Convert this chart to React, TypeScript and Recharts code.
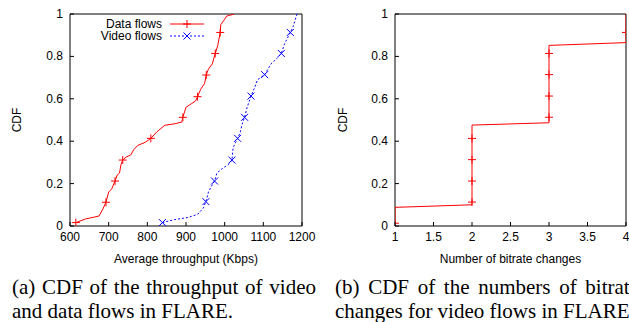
import React from 'react';
import { LineChart, Line, XAxis, YAxis, ReferenceArea, Legend } from 'recharts';

// tick labels
const throughputTicks = [600, 700, 800, 900, 1000, 1100, 1200];
const bitrateTicks = [1, 1.5, 2, 2.5, 3, 3.5, 4];
const cdfTicks = [0, 0.2, 0.4, 0.6, 0.8, 1];

// (a) data flows
const dataFlowKbps = [
  615, 640, 675, 685, 693, 700, 708, 716.5, 722, 728, 732, 736.4, 745, 757, 765, 775, 795, 809, 825, 845,
  870, 889, 891.8, 900, 915, 925, 929.8, 938, 948, 952.3, 958, 968, 975.6, 982, 988.5, 990, 1000, 1005, 1025,
];
const dataFlowCdf = [
  0.016, 0.033, 0.047, 0.08, 0.112, 0.16, 0.175, 0.212, 0.24, 0.25, 0.29, 0.311, 0.325, 0.335, 0.36, 0.38,
  0.395, 0.4135, 0.445, 0.475, 0.482, 0.49, 0.5126, 0.56, 0.578, 0.59, 0.61, 0.645, 0.672, 0.712, 0.74,
  0.765, 0.814, 0.85, 0.913, 0.95, 0.975, 0.99, 1.0,
];
const dataFlowMarks = [0, 4, 7, 11, 17, 22, 26, 29, 32, 34];

// (a) video flows
const videoFlowKbps = [
  839, 870, 905, 930, 945, 951.4, 958, 965, 973.8, 980, 993, 1010, 1018.7, 1022, 1033.4, 1040, 1045, 1051.5,
  1058, 1063, 1068, 1078, 1085, 1103.3, 1120, 1135, 1146.5, 1155, 1169.8, 1177, 1187,
];
const videoFlowCdf = [
  0.016, 0.03, 0.04, 0.055, 0.085, 0.115, 0.16, 0.185, 0.212, 0.25, 0.27, 0.29, 0.311, 0.37, 0.4135, 0.44,
  0.48, 0.5126, 0.56, 0.585, 0.613, 0.655, 0.69, 0.714, 0.765, 0.79, 0.814, 0.86, 0.913, 0.94, 1.0,
];
const videoFlowMarks = [0, 5, 8, 12, 14, 17, 20, 23, 26, 28];

// (b) bitrate changes
const bitrateChanges = [1, 1, 2, 2, 2, 2, 2, 2, 3, 3, 3, 3, 3, 3, 4, 4, 4];
const bitrateCdf = [
  0.013, 0.088, 0.1, 0.113, 0.212, 0.313, 0.413, 0.476, 0.487, 0.513, 0.613, 0.714, 0.814, 0.852, 0.865,
  0.913, 1.0,
];
const bitrateMarks = [0, 3, 4, 5, 6, 9, 10, 11, 12, 15];

const toRows = (xs: number[], ys: number[], marks: number[]) =>
  xs.map((x, i) => ({ x, y: ys[i], mark: marks.includes(i) }));

const dataRows = toRows(dataFlowKbps, dataFlowCdf, dataFlowMarks);
const videoRows = toRows(videoFlowKbps, videoFlowCdf, videoFlowMarks);
const bitrateRows = toRows(bitrateChanges, bitrateCdf, bitrateMarks);

const RED = '#ff0000';
const BLUE = '#0000ff';
const FONT = '"Liberation Sans", Arial, sans-serif';

const PlusMark = ({ cx, cy, color }: { cx: number; cy: number; color: string }) => (
  <g stroke={color} strokeWidth={1}>
    <line x1={cx - 4} x2={cx + 4} y1={cy} y2={cy} />
    <line x1={cx} x2={cx} y1={cy - 4} y2={cy + 4} />
  </g>
);

const CrossMark = ({ cx, cy, color }: { cx: number; cy: number; color: string }) => (
  <g stroke={color} strokeWidth={1}>
    <line x1={cx - 3.5} x2={cx + 3.5} y1={cy - 3.5} y2={cy + 3.5} />
    <line x1={cx - 3.5} x2={cx + 3.5} y1={cy + 3.5} y2={cy - 3.5} />
  </g>
);

const markDot = (shape: 'plus' | 'cross', color: string) => (props: any) => {
  const { cx, cy, payload, index } = props;
  if (!payload?.mark) return <g key={`d${index}`} />;
  return shape === 'plus' ? (
    <PlusMark key={`d${index}`} cx={cx} cy={cy} color={color} />
  ) : (
    <CrossMark key={`d${index}`} cx={cx} cy={cy} color={color} />
  );
};

// gnuplot style ticks: drawn inwards, label outside
const XTick = ({ x, y, payload }: any) => (
  <g>
    <line x1={x} x2={x} y1={y} y2={y - 4} stroke="#000" />
    <text x={x} y={y + 15} textAnchor="middle" fontSize={12} fontFamily={FONT} fill="#000">
      {payload.value}
    </text>
  </g>
);

const YTick = ({ x, y, payload }: any) => (
  <g>
    <line x1={x} x2={x + 4} y1={y} y2={y} stroke="#000" />
    <text x={x - 7} y={y + 4} textAnchor="end" fontSize={12} fontFamily={FONT} fill="#000">
      {payload.value}
    </text>
  </g>
);

const yTitle = (dx: number) => (props: any) => {
  const vb = props.viewBox || {};
  const cx = vb.x + dx;
  const cy = vb.y + vb.height / 2;
  return (
    <text
      x={cx}
      y={cy}
      transform={`rotate(-90, ${cx}, ${cy})`}
      textAnchor="middle"
      dominantBaseline="central"
      fontSize={12}
      fontFamily={FONT}
      fill="#000"
    >
      CDF
    </text>
  );
};

const FlowLegend = (props: any) => {
  const items = props.payload || [];
  return (
    <svg width={140} height={30} style={{ display: 'block' }}>
      {items.map((item: any, i: number) => {
        const cy = 8 + i * 12;
        const dashed = item.payload?.strokeDasharray;
        return (
          <g key={item.value}>
            <text x={92} y={cy + 4} textAnchor="end" fontSize={12} fontFamily={FONT} fill="#000">
              {item.value}
            </text>
            <line x1={100} x2={134} y1={cy} y2={cy} stroke={item.color} strokeDasharray={dashed} />
            {i === 0 ? (
              <PlusMark cx={117} cy={cy} color={item.color} />
            ) : (
              <CrossMark cx={117} cy={cy} color={item.color} />
            )}
          </g>
        );
      })}
    </svg>
  );
};

const axisLabelStyle = { fontSize: 12, fontFamily: FONT, fill: '#000' };

const captionStyle: React.CSSProperties = {
  position: 'absolute',
  width: 304,
  fontFamily: '"Liberation Serif", "Times New Roman", serif',
  fontSize: 21,
  lineHeight: '24px',
  color: '#000',
  whiteSpace: 'nowrap',
};

const justified: React.CSSProperties = { textAlign: 'justify', textAlignLast: 'justify', whiteSpace: 'normal' };

export default function App() {
  return (
    <div
      style={{
        position: 'absolute',
        left: 0,
        top: 0,
        width: 629,
        height: 322,
        overflow: 'hidden',
        background: '#fff',
      }}
    >
      <div style={{ position: 'absolute', left: 0, top: 0 }}>
        <LineChart width={320} height={270} margin={{ top: 14, right: 18, bottom: 0, left: 0 }}>
          <XAxis
            type="number"
            dataKey="x"
            domain={[600, 1200]}
            ticks={throughputTicks}
            allowDataOverflow
            axisLine={false}
            tickLine={false}
            tickSize={0}
            tickMargin={0}
            height={44}
            tick={<XTick />}
            interval={0}
            label={{ value: 'Average throughput (Kbps)', position: 'insideBottom', offset: 7, style: axisLabelStyle }}
          />
          <YAxis
            type="number"
            dataKey="y"
            domain={[0, 1]}
            ticks={cdfTicks}
            allowDataOverflow
            axisLine={false}
            tickLine={false}
            tickSize={0}
            tickMargin={0}
            width={70}
            tick={<YTick />}
            interval={0}
            label={{ content: yTitle(17) }}
          />
          <ReferenceArea x1={600} x2={1200} y1={0} y2={1} fill="none" stroke="#000" strokeWidth={1} ifOverflow="visible" />
          <Legend
            layout="vertical"
            align="center"
            verticalAlign="middle"
            wrapperStyle={{ top: 16, left: 70, width: 140, height: 30 }}
            content={<FlowLegend />}
          />
          <Line
            data={dataRows}
            dataKey="y"
            name="Data flows"
            type="linear"
            stroke={RED}
            strokeWidth={1}
            dot={markDot('plus', RED)}
            activeDot={false}
            isAnimationActive={false}
          />
          <Line
            data={videoRows}
            dataKey="y"
            name="Video flows"
            type="linear"
            stroke={BLUE}
            strokeWidth={1}
            strokeDasharray="2 2"
            dot={markDot('cross', BLUE)}
            activeDot={false}
            isAnimationActive={false}
          />
        </LineChart>
      </div>

      <div style={{ position: 'absolute', left: 320, top: 0 }}>
        <LineChart width={309} height={270} margin={{ top: 14, right: 3, bottom: 0, left: 0 }}>
          <XAxis
            type="number"
            dataKey="x"
            domain={[1, 4]}
            ticks={bitrateTicks}
            allowDataOverflow
            axisLine={false}
            tickLine={false}
            tickSize={0}
            tickMargin={0}
            height={44}
            tick={<XTick />}
            interval={0}
            label={{ value: 'Number of bitrate changes', position: 'insideBottom', offset: 7, style: axisLabelStyle }}
          />
          <YAxis
            type="number"
            dataKey="y"
            domain={[0, 1]}
            ticks={cdfTicks}
            allowDataOverflow
            axisLine={false}
            tickLine={false}
            tickSize={0}
            tickMargin={0}
            width={75}
            tick={<YTick />}
            interval={0}
            label={{ content: yTitle(23) }}
          />
          <ReferenceArea x1={1} x2={4} y1={0} y2={1} fill="none" stroke="#000" strokeWidth={1} ifOverflow="visible" />
          <Line
            data={bitrateRows}
            dataKey="y"
            name="Bitrate changes"
            type="linear"
            stroke={RED}
            strokeWidth={1}
            dot={markDot('plus', RED)}
            activeDot={false}
            isAnimationActive={false}
          />
        </LineChart>
      </div>

      <div style={{ ...captionStyle, ...justified, left: 12, top: 275 }}>(a) CDF of the throughput of video</div>
      <div style={{ ...captionStyle, left: 12, top: 299 }}>and data flows in FLARE.</div>
      <div style={{ ...captionStyle, ...justified, left: 335, top: 275 }}>(b) CDF of the numbers of bitrate</div>
      <div style={{ ...captionStyle, left: 335, top: 299 }}>changes for video flows in FLARE.</div>
    </div>
  );
}
